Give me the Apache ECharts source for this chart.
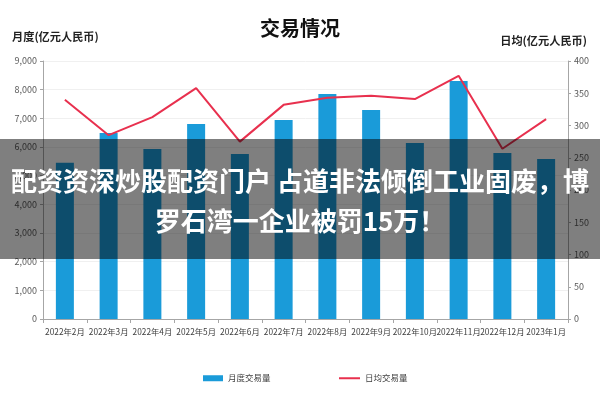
<!DOCTYPE html>
<html>
<head>
<meta charset="utf-8">
<script src="https://cdn.jsdelivr.net/npm/echarts@6/dist/echarts.min.js"></script>
<style>
html,body{margin:0;padding:0;background:#fff;}
#chart{width:600px;height:400px;}
</style>
</head>
<body>
<div id="chart"></div>
<script>
var categories = ['2022年2月','2022年3月','2022年4月','2022年5月','2022年6月','2022年7月','2022年8月','2022年9月','2022年10月','2022年11月','2022年12月','2023年1月'];
var monthlyVolume = [5450, 6490, 5930, 6800, 5760, 6940, 7850, 7290, 6140, 8300, 5790, 5580];
var dailyVolume = [340, 285, 313, 358, 275, 332, 343, 346, 341, 377, 264, 310];
var leftTicks = [0, 9000, 1000];
var rightTicks = [0, 400, 50];
var titleText = '交易情况';
var leftAxisName = '月度(亿元人民币)';
var rightAxisName = '日均(亿元人民币)';
var seriesNames = ['月度交易量', '日均交易量'];
var overlayLines = ['配资资深炒股配资门户 占道非法倾倒工业固废，博', '罗石湾一企业被罚15万！'];

var font = '"Noto Sans CJK SC", "Liberation Sans", sans-serif';
var chart = echarts.init(document.getElementById('chart'), null, {renderer: 'canvas'});
var option = {
  animation: false,
  backgroundColor: '#fff',
  textStyle: {fontFamily: font},
  title: {
    text: titleText, left: 'center', top: 13,
    textStyle: {fontSize: 20, fontWeight: 'bold', color: '#111', fontFamily: font}
  },
  legend: [{
    data: [seriesNames[0]], left: 198, top: 369,
    itemWidth: 20, itemHeight: 6, itemGap: 4, icon: 'rect',
    textStyle: {fontSize: 8.5, color: '#404040', fontFamily: font}
  }, {
    data: [seriesNames[1]], left: 334, top: 369,
    itemWidth: 21, itemHeight: 2, itemGap: 4, icon: 'rect',
    textStyle: {fontSize: 8.5, color: '#404040', fontFamily: font}
  }],
  grid: {left: 43, right: 32, top: 61, bottom: 81, containLabel: false},
  xAxis: {
    type: 'category', data: categories, boundaryGap: true,
    axisLine: {lineStyle: {color: '#a6a6a6', width: 1}},
    axisTick: {show: true, length: 4, alignWithLabel: false, lineStyle: {color: '#a6a6a6'}},
    axisLabel: {fontSize: 8.3, color: '#404040', margin: 9, interval: 0, fontFamily: font}
  },
  yAxis: [{
    type: 'value', min: leftTicks[0], max: leftTicks[1], interval: leftTicks[2], position: 'left',
    axisLine: {show: true, lineStyle: {color: '#a6a6a6'}},
    axisTick: {show: true, length: 3, lineStyle: {color: '#a6a6a6'}},
    splitLine: {show: true, lineStyle: {color: '#f0f0f0'}},
    axisLabel: {fontSize: 9, color: '#595959', margin: 6, fontFamily: font,
      formatter: function (v) { return v.toLocaleString('en-US'); }}
  }, {
    type: 'value', min: rightTicks[0], max: rightTicks[1], interval: rightTicks[2], position: 'right',
    axisLine: {show: true, lineStyle: {color: '#a6a6a6'}},
    axisTick: {show: true, length: 3, lineStyle: {color: '#a6a6a6'}},
    splitLine: {show: false},
    axisLabel: {fontSize: 9, color: '#595959', margin: 6, fontFamily: font}
  }],
  series: [{
    name: seriesNames[0], type: 'bar', data: monthlyVolume, yAxisIndex: 0,
    barWidth: 18, itemStyle: {color: '#1a9bd9'}
  }, {
    name: seriesNames[1], type: 'line', data: dailyVolume, yAxisIndex: 1,
    symbol: 'none', lineStyle: {color: '#e8304e', width: 2}, itemStyle: {color: '#e8304e'}
  }],
  graphic: [
    {type: 'text', left: 12, top: 31, z: 50,
     style: {text: leftAxisName, fill: '#222', font: 'bold 11.2px ' + font}},
    {type: 'text', right: 13, top: 35, z: 50,
     style: {text: rightAxisName, fill: '#222', font: 'bold 11.2px ' + font}},
    {type: 'rect', left: 0, top: 139, z: 100,
     shape: {width: 600, height: 120}, style: {fill: 'rgba(0,0,0,0.5)'}},
    {type: 'text', x: 300, y: 181, z: 101,
     style: {text: overlayLines[0], fill: '#fff', font: 'bold 26px ' + font, textAlign: 'center', textVerticalAlign: 'middle'}},
    {type: 'text', x: 300, y: 221, z: 101,
     style: {text: overlayLines[1], fill: '#fff', font: 'bold 26px ' + font, textAlign: 'center', textVerticalAlign: 'middle'}}
  ]
};
chart.setOption(option);
</script>
</body>
</html>
